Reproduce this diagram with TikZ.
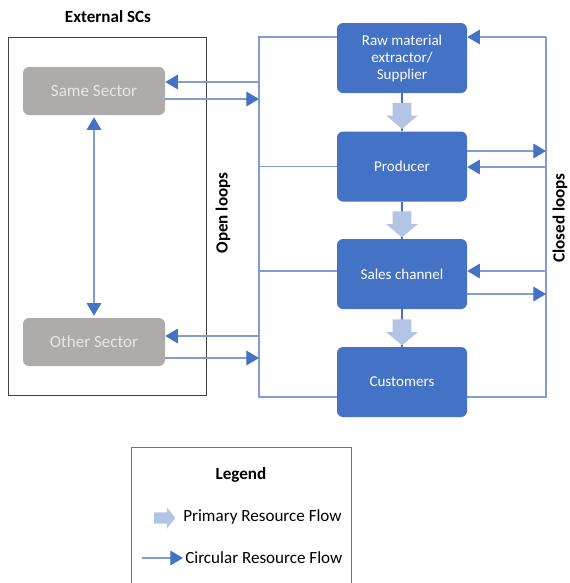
\documentclass[tikz,border=0pt]{standalone}
\usepackage{fontspec}
\setmainfont{Carlito}
\usetikzlibrary{arrows.meta,shapes.arrows}
\definecolor{stageblue}{HTML}{4472C4}
\definecolor{loopblue}{HTML}{7F9DD4}
\definecolor{primblue}{HTML}{B4C4E4}
\definecolor{scgray}{HTML}{AEABAB}
\definecolor{sctext}{HTML}{E6E6E6}
\begin{document}
\begin{tikzpicture}[x=0.75pt,y=-0.75pt,
  stage/.style={rectangle, rounded corners=4.5pt, fill=stageblue, text=white, align=center,
    minimum width=97.5pt, minimum height=52.5pt, inner sep=0pt,
    font=\fontsize{11.3}{12.75}\selectfont},
  extsc/.style={rectangle, rounded corners=4.5pt, fill=scgray, text=sctext,
    minimum width=106.5pt, minimum height=36pt, inner sep=0pt,
    font=\fontsize{12.8}{15}\selectfont},
  loopline/.style={draw=loopblue, line width=0.9pt},
  circflow/.style={loopline, -{Triangle[length=9.5pt,width=11pt,color=stageblue]}},
  primflow/.style={single arrow, fill=primblue, draw=none, rotate=-90, inner xsep=0pt,
    inner ysep=6.75pt, minimum height=19.5pt, single arrow head extend=4.9pt,
    single arrow tip angle=100},
  spine/.style={draw=stageblue, line width=0.8pt},
  heading/.style={inner sep=0pt, font=\bfseries\fontsize{12.8}{15}\selectfont},
  legtext/.style={anchor=west, inner sep=0pt, font=\fontsize{12.8}{15}\selectfont}]
\useasboundingbox (0,0) rectangle (569,583);
\clip (0,0) rectangle (569,583);

\node[heading] (exttitle) at (108,17) {External SCs};
\draw[black!75, line width=0.75pt] (8,37) rectangle (206,395);
\node[extsc] (same) at (94,91) {Same Sector};
\node[extsc] (other) at (94,342) {Other Sector};
\draw[loopline, {Triangle[length=9.5pt,width=11pt,color=stageblue]}-{Triangle[length=9.5pt,width=11pt,color=stageblue]}, shorten <=1.5pt, shorten >=1.5pt] (same) -- (other);

\node[stage] (raw) at (402,58) {Raw material\\extractor/\\Supplier};
\node[stage] (prod) at (402,166.5) {Producer};
\node[stage] (sales) at (402,274) {Sales channel};
\node[stage] (cust) at (402,382) {Customers};
\draw[spine] (raw) -- (prod);
\draw[spine] (prod) -- (sales);
\draw[spine] (sales) -- (cust);
\node[primflow] (pf1) at (402,112) {};
\node[primflow] (pf2) at (402,220.5) {};
\node[primflow] (pf3) at (402,328.5) {};

\coordinate (ot) at (259,37);
\coordinate (ob) at (259,397);
\coordinate (os) at (259,271);
\coordinate (osa) at (259,82);
\coordinate (osb) at (259,99);
\coordinate (ooa) at (259,336);
\coordinate (oob) at (259,358);
\draw[loopline] (raw.west |- ot) -- (ot) -- (ob) -- (cust.west |- ob);
\draw[loopline] (prod.west) -- (prod.west -| ot);
\draw[loopline] (os) -- (sales.west |- os);
\draw[circflow] (osa) -- (same.east |- osa);
\draw[circflow] (same.east |- osb) -- (osb);
\draw[circflow] (ooa) -- (other.east |- ooa);
\draw[circflow] (other.east |- oob) -- (oob);
\node[heading, rotate=90] (openlbl) at (223,213) {Open loops};

\coordinate (ct) at (546,37);
\coordinate (cb) at (546,397);
\coordinate (cpa) at (546,151);
\coordinate (cpb) at (546,167);
\coordinate (csa) at (546,271);
\coordinate (csb) at (546,294);
\draw[loopline] (ct) -- (cb) -- (cust.east |- cb);
\draw[circflow] (ct) -- (raw.east |- ct);
\draw[circflow] (prod.east |- cpa) -- (cpa);
\draw[circflow] (cpb) -- (prod.east |- cpb);
\draw[circflow] (csa) -- (sales.east |- csa);
\draw[circflow] (sales.east |- csb) -- (csb);
\node[heading, rotate=90] (closedlbl) at (560,218) {Closed loops};

\draw[black!55, line width=0.75pt] (131,447) rectangle (351,600);
\node[heading] (legtitle) at (241,475) {Legend};
\node[single arrow, fill=primblue, inner xsep=0pt, inner ysep=4.1pt, minimum height=15.75pt,
  single arrow head extend=3.75pt, single arrow tip angle=105] (legprimarrow) at (162.5,518) {};
\node[legtext] (legprim) at (183,517) {Primary Resource Flow};
\coordinate (legcircstart) at (142,558);
\coordinate (legcircend) at (183,558);
\draw[circflow] (legcircstart) -- (legcircend);
\node[legtext] (legcirc) at (185,558) {Circular Resource Flow};
\end{tikzpicture}
\end{document}
